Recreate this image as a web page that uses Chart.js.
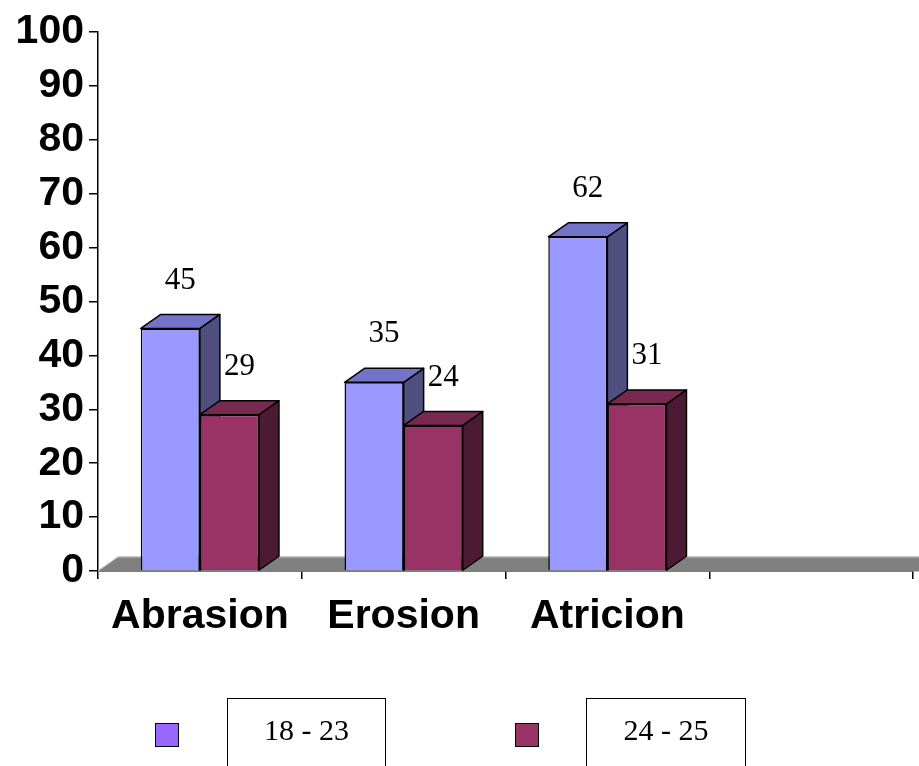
<!DOCTYPE html>
<html>
<head>
<meta charset="utf-8">
<script src="https://cdn.jsdelivr.net/npm/chart.js@4/dist/chart.umd.min.js"></script>
<style>
  html, body { margin: 0; padding: 0; background: #fff; }
  #wrap { position: relative; width: 919px; height: 766px; overflow: hidden; }
  canvas { position: absolute; left: 0; top: 0; }
  .swatch { position: absolute; width: 22px; height: 22px; border: 1px solid #000; }
  .lbox { position: absolute; height: 80px; border: 1.5px solid #000; border-bottom: none;
          font: 30px "Liberation Serif", "Times New Roman", serif; text-align: center;
          line-height: 62px; box-sizing: border-box; }
</style>
</head>
<body>
<div id="wrap">
  <canvas id="chart" width="919" height="766"></canvas>
  <div class="swatch" style="left:155px;top:723px;background:#9966ff"></div>
  <div class="lbox" style="left:227px;top:698px;width:159px">18 - 23</div>
  <div class="swatch" style="left:515px;top:723px;background:#993366"></div>
  <div class="lbox" style="left:586px;top:698px;width:160px">24 - 25</div>
</div>
<script>
// data
const categories = ['Abrasion', 'Erosion', 'Atricion', ''];
const seriesNames = ['18 - 23', '24 - 25'];
const young = [45, 35, 62, null];
const older = [29, 27, 31, null];
// the labels printed above the bars (the Erosion one says 24 although the bar reaches ~27)
const youngLabels = ['45', '35', '62', ''];
const olderLabels = ['29', '24', '31', ''];
const yTicks = [0, 10, 20, 30, 40, 50, 60, 70, 80, 90, 100];

const DX = 20, DY = 14;   // 3d depth offset

const faces = [
  { front: '#9999ff', top: '#7373c9', side: '#4f4f80' },
  { front: '#993366', top: '#77294f', side: '#4d1a33' }
];

function poly(ctx, pts, fill) {
  ctx.beginPath();
  ctx.moveTo(pts[0][0], pts[0][1]);
  for (let i = 1; i < pts.length; i++) ctx.lineTo(pts[i][0], pts[i][1]);
  ctx.closePath();
  ctx.fillStyle = fill;
  ctx.fill();
  ctx.stroke();
}

const bars3d = {
  id: 'bars3d',
  beforeDatasetsDraw(chart) {
    const ctx = chart.ctx;
    const a = chart.chartArea;
    ctx.save();
    // floor
    ctx.lineWidth = 1;
    ctx.strokeStyle = '#808080';
    poly(ctx, [[a.left, a.bottom], [a.right + DX, a.bottom], [a.right + DX + DX, a.bottom - DY], [a.left + DX, a.bottom - DY]], '#808080');
    ctx.strokeStyle = '#c8c8c8';
    ctx.beginPath();
    ctx.moveTo(a.left, a.bottom);
    ctx.lineTo(a.left + DX, a.bottom - DY);
    ctx.lineTo(a.right + DX * 2, a.bottom - DY);
    ctx.stroke();

    // tops and sides, category by category
    ctx.strokeStyle = '#000';
    ctx.lineWidth = 1.5;
    ctx.lineJoin = 'round';
    const n = chart.data.labels.length;
    for (let i = 0; i < n; i++) {
      chart.data.datasets.forEach((ds, d) => {
        const el = chart.getDatasetMeta(d).data[i];
        if (!el || ds.data[i] == null) return;
        const l = el.x - el.width / 2, r = el.x + el.width / 2, t = el.y, b = el.base;
        poly(ctx, [[r, b], [r + DX, b - DY], [r + DX, t - DY], [r, t]], faces[d].side);
        poly(ctx, [[l, t], [l + DX, t - DY], [r + DX, t - DY], [r, t]], faces[d].top);
      });
    }
    ctx.restore();
  },
  afterDatasetsDraw(chart) {
    const ctx = chart.ctx;
    ctx.save();
    ctx.fillStyle = '#000';
    ctx.font = '31px "Liberation Serif", "Times New Roman", serif';
    ctx.textAlign = 'center';
    ctx.textBaseline = 'middle';
    const lbls = [youngLabels, olderLabels];
    chart.data.datasets.forEach((ds, d) => {
      chart.getDatasetMeta(d).data.forEach((el, i) => {
        if (ds.data[i] == null) return;
        ctx.fillText(lbls[d][i], el.x + DX / 2, el.y - 48);
      });
    });
    ctx.restore();
  }
};

new Chart(document.getElementById('chart').getContext('2d'), {
  type: 'bar',
  data: {
    labels: categories,
    datasets: [
      { label: seriesNames[0], data: young, backgroundColor: faces[0].front, borderColor: '#000', borderWidth: 1.5 },
      { label: seriesNames[1], data: older, backgroundColor: faces[1].front, borderColor: '#000', borderWidth: 1.5 }
    ]
  },
  options: {
    responsive: false,
    animation: false,
    layout: { padding: { left: 0, right: 6, top: 32, bottom: 0 } },
    categoryPercentage: 0.58,
    barPercentage: 1,
    plugins: { legend: { display: false }, tooltip: { enabled: false } },
    scales: {
      x: {
        grid: { offset: true, drawOnChartArea: false, color: '#000', lineWidth: 1.5, tickLength: 8 },
        border: { color: '#000', width: 1.5 },
        ticks: { color: '#000', font: { family: 'Liberation Sans, Arial, sans-serif', size: 41, weight: 'bold' }, padding: 13, maxRotation: 0 },
        afterFit(s) { s.height = 766 - 571; }
      },
      y: {
        min: 0, max: 100,
        afterBuildTicks(s) { s.ticks = yTicks.map(v => ({ value: v })); },
        grid: { drawOnChartArea: false, color: '#000', lineWidth: 1.5, tickLength: 9 },
        border: { color: '#000', width: 1.5 },
        ticks: { color: '#000', font: { family: 'Liberation Sans, Arial, sans-serif', size: 41, weight: 'bold' }, padding: 5 },
        afterFit(s) { s.width = 98; }
      }
    }
  },
  plugins: [bars3d]
});
</script>
</body>
</html>
